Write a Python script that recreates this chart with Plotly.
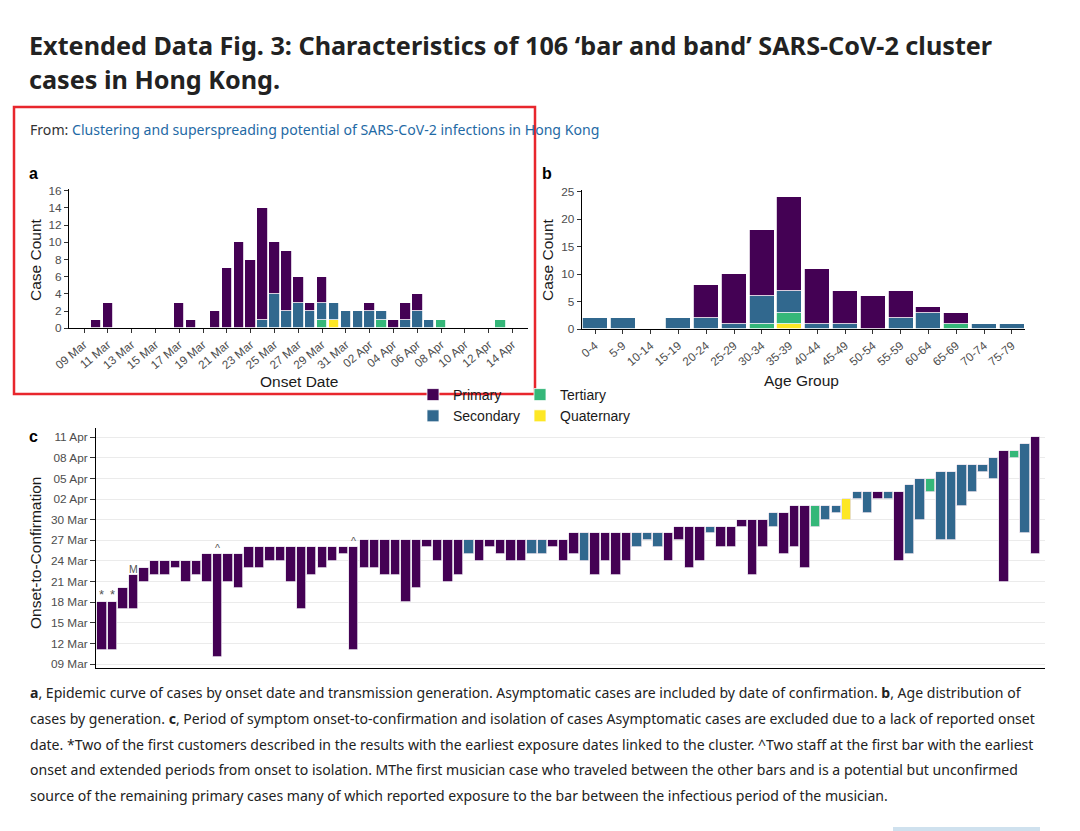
import pandas as pd
import plotly.graph_objects as go

# ---------------- data ----------------
generations = ["Primary", "Secondary", "Tertiary", "Quaternary"]
gen_colors = ["#440154", "#31688e", "#35b779", "#fde725"]

# panel a: epidemic curve by onset date
a_onset_dates = ["2020-03-10", "2020-03-11", "2020-03-17", "2020-03-18", "2020-03-20",
                 "2020-03-21", "2020-03-22", "2020-03-23", "2020-03-24", "2020-03-25",
                 "2020-03-26", "2020-03-27", "2020-03-28", "2020-03-29", "2020-03-30",
                 "2020-03-31", "2020-04-01", "2020-04-02", "2020-04-03", "2020-04-04",
                 "2020-04-05", "2020-04-06", "2020-04-07", "2020-04-08", "2020-04-13"]
a_primary    = [1, 3, 3, 1, 2, 7, 10, 8, 13, 6, 7, 3, 1, 3, 0, 0, 0, 1, 0, 1, 2, 2, 0, 0, 0]
a_secondary  = [0, 0, 0, 0, 0, 0, 0, 0, 1, 4, 2, 3, 2, 2, 2, 2, 2, 2, 1, 0, 1, 2, 1, 0, 0]
a_tertiary   = [0, 0, 0, 0, 0, 0, 0, 0, 0, 0, 0, 0, 0, 1, 0, 0, 0, 0, 1, 0, 0, 0, 0, 1, 1]
a_quaternary = [0, 0, 0, 0, 0, 0, 0, 0, 0, 0, 0, 0, 0, 0, 1, 0, 0, 0, 0, 0, 0, 0, 0, 0, 0]

# panel b: age distribution
age_groups = ["0-4", "5-9", "10-14", "15-19", "20-24", "25-29", "30-34", "35-39",
              "40-44", "45-49", "50-54", "55-59", "60-64", "65-69", "70-74", "75-79"]
b_primary    = [0, 0, 0, 0, 6, 9, 12, 17, 10, 6, 6, 5, 1, 2, 0, 0]
b_secondary  = [2, 2, 0, 2, 2, 1, 5, 4, 1, 1, 0, 2, 3, 0, 1, 1]
b_tertiary   = [0, 0, 0, 0, 0, 0, 1, 2, 0, 0, 0, 0, 0, 1, 0, 0]
b_quaternary = [0, 0, 0, 0, 0, 0, 0, 1, 0, 0, 0, 0, 0, 0, 0, 0]

# panel c: onset-to-confirmation period per case
c_confirm = ["2020-03-18", "2020-03-18", "2020-03-20", "2020-03-22", "2020-03-23",
             "2020-03-24", "2020-03-24", "2020-03-24", "2020-03-24", "2020-03-24",
             "2020-03-25", "2020-03-25", "2020-03-25", "2020-03-25", "2020-03-26",
             "2020-03-26", "2020-03-26", "2020-03-26", "2020-03-26", "2020-03-26",
             "2020-03-26", "2020-03-26", "2020-03-26", "2020-03-26", "2020-03-26",
             "2020-03-27", "2020-03-27", "2020-03-27", "2020-03-27", "2020-03-27",
             "2020-03-27", "2020-03-27", "2020-03-27", "2020-03-27", "2020-03-27",
             "2020-03-27", "2020-03-27", "2020-03-27", "2020-03-27", "2020-03-27",
             "2020-03-27", "2020-03-27", "2020-03-27", "2020-03-27", "2020-03-27",
             "2020-03-28", "2020-03-28", "2020-03-28", "2020-03-28", "2020-03-28",
             "2020-03-28", "2020-03-28", "2020-03-28", "2020-03-28", "2020-03-28",
             "2020-03-29", "2020-03-29", "2020-03-29", "2020-03-29", "2020-03-29",
             "2020-03-29", "2020-03-30", "2020-03-30", "2020-03-30", "2020-03-31",
             "2020-03-31", "2020-04-01", "2020-04-01", "2020-04-01", "2020-04-01",
             "2020-04-01", "2020-04-02", "2020-04-03", "2020-04-03", "2020-04-03",
             "2020-04-03", "2020-04-03", "2020-04-04", "2020-04-05", "2020-04-05",
             "2020-04-06", "2020-04-06", "2020-04-07", "2020-04-07", "2020-04-07",
             "2020-04-08", "2020-04-09", "2020-04-09", "2020-04-10", "2020-04-11"]
c_onset = ["2020-03-11", "2020-03-11", "2020-03-17", "2020-03-17", "2020-03-21",
           "2020-03-22", "2020-03-22", "2020-03-23", "2020-03-21", "2020-03-22",
           "2020-03-21", "2020-03-10", "2020-03-21", "2020-03-20", "2020-03-23",
           "2020-03-23", "2020-03-24", "2020-03-24", "2020-03-21", "2020-03-17",
           "2020-03-22", "2020-03-23", "2020-03-24", "2020-03-25", "2020-03-11",
           "2020-03-23", "2020-03-23", "2020-03-22", "2020-03-22", "2020-03-18",
           "2020-03-20", "2020-03-26", "2020-03-24", "2020-03-21", "2020-03-22",
           "2020-03-25", "2020-03-24", "2020-03-26", "2020-03-25", "2020-03-24",
           "2020-03-24", "2020-03-25", "2020-03-25", "2020-03-26", "2020-03-24",
           "2020-03-25", "2020-03-24", "2020-03-22", "2020-03-24", "2020-03-22",
           "2020-03-24", "2020-03-26", "2020-03-27", "2020-03-26", "2020-03-24",
           "2020-03-27", "2020-03-23", "2020-03-24", "2020-03-28", "2020-03-26",
           "2020-03-26", "2020-03-29", "2020-03-22", "2020-03-26", "2020-03-29",
           "2020-03-25", "2020-03-26", "2020-03-23", "2020-03-29", "2020-03-30",
           "2020-03-31", "2020-03-30", "2020-04-02", "2020-03-31", "2020-04-02",
           "2020-04-02", "2020-03-24", "2020-03-25", "2020-03-30", "2020-04-03",
           "2020-03-27", "2020-03-27", "2020-04-01", "2020-04-03", "2020-04-06",
           "2020-04-05", "2020-03-21", "2020-04-08", "2020-03-28", "2020-03-25"]
c_generation = ["P", "P", "P", "P", "P", "P", "P", "P", "P", "P",
                "P", "P", "P", "P", "P", "P", "P", "P", "P", "P",
                "P", "P", "P", "P", "P", "P", "P", "P", "P", "P",
                "P", "P", "P", "P", "P", "S", "P", "P", "P", "P",
                "P", "S", "S", "P", "P", "P", "S", "P", "P", "P",
                "P", "S", "S", "S", "P", "P", "P", "P", "S", "P",
                "P", "P", "P", "P", "S", "P", "P", "P", "T", "S",
                "S", "Q", "S", "S", "P", "S", "P", "S", "S", "T",
                "S", "S", "S", "S", "S", "S", "P", "T", "S", "P"]
c_note_case = [1, 2, 4, 12, 25]
c_note_text = ["*", "*", "M", "^", "^"]

# ---------------- helpers ----------------
W, H = 1080, 831
DAY = 86400000


def px(x):
    return x / W


def py(y):
    return 1 - y / H


def nz(vals):
    return [v if v else None for v in vals]


col = dict(zip(generations, gen_colors))
code_of = {"Primary": "P", "Secondary": "S", "Tertiary": "T", "Quaternary": "Q"}
TICK = "#4d4d4d"
TXT = "#1a1a1a"
FONT = "Liberation Sans, Arial, sans-serif"
PAGE = "Noto Sans, Lato, sans-serif"

fig = go.Figure()

a_series = {"Primary": a_primary, "Secondary": a_secondary,
            "Tertiary": a_tertiary, "Quaternary": a_quaternary}
b_series = {"Primary": b_primary, "Secondary": b_secondary,
            "Tertiary": b_tertiary, "Quaternary": b_quaternary}

stack_order = ["Quaternary", "Tertiary", "Secondary", "Primary"]
for gen in stack_order:
    leg = "legend" if gen in ("Primary", "Secondary") else "legend2"
    fig.add_trace(go.Bar(
        x=a_onset_dates, y=nz(a_series[gen]), name=gen, width=0.88 * DAY,
        marker=dict(color=col[gen], line=dict(color="white", width=0.8)),
        xaxis="x", yaxis="y", legend=leg, showlegend=True, hoverinfo="x+y+name"))
for gen in stack_order:
    fig.add_trace(go.Bar(
        x=age_groups, y=nz(b_series[gen]), name=gen, width=0.9,
        marker=dict(color=col[gen], line=dict(color="white", width=0.8)),
        xaxis="x2", yaxis="y2", showlegend=False))

for gen in generations:
    xs, bases, lens = [], [], []
    for i, (top, bot, g) in enumerate(zip(c_confirm, c_onset, c_generation), start=1):
        if g == code_of[gen]:
            xs.append(i)
            bases.append(bot)
            lens.append((pd.Timestamp(top) - pd.Timestamp(bot)).total_seconds() * 1000)
    fig.add_trace(go.Bar(
        x=xs, y=lens, base=bases, name=gen, width=0.9,
        marker=dict(color=col[gen], line=dict(color="#e6e0ea", width=0.8)),
        xaxis="x3", yaxis="y3", showlegend=False))

# ---------------- axes ----------------
d0 = pd.Timestamp("2020-03-09")
axis_common = dict(showline=True, linecolor="black", linewidth=1, ticks="outside",
                   ticklen=4, tickcolor="#333333", tickwidth=1, zeroline=False,
                   showgrid=False, automargin=False,
                   tickfont=dict(size=11.8, color=TICK, family=FONT))

annotations = []
shapes = []

fig.update_layout(
    xaxis=dict(axis_common, type="date", domain=[px(69), px(528)], anchor="y",
               range=[d0 - pd.Timedelta(days=1.26), d0 + pd.Timedelta(days=37.3)],
               tick0="2020-03-09", dtick=2 * DAY, tickformat="%d %b", tickangle=-40),
    yaxis=dict(axis_common, domain=[py(328.3), py(189)], anchor="x",
               range=[0, 16.2], dtick=2),
    xaxis2=dict(axis_common, type="category", domain=[px(581.7), px(1025)], anchor="y2",
                range=[-0.48, 15.47], tickangle=-40,
                categoryorder="array", categoryarray=age_groups),
    yaxis2=dict(axis_common, domain=[py(329.3), py(190)], anchor="x2",
                range=[0, 25.3], dtick=5),
    xaxis3=dict(showline=True, linecolor="black", linewidth=1, domain=[px(96), px(1045)],
                anchor="y3", range=[0.43, 90.9], showticklabels=False, ticks="",
                showgrid=False, zeroline=False, automargin=False),
    yaxis3=dict(axis_common, type="date", domain=[py(668), py(428)], anchor="x3",
                range=[d0 - pd.Timedelta(days=0.58), d0 + pd.Timedelta(days=34.35)],
                tick0="2020-03-09", dtick=3 * DAY, tickformat="%d %b",
                showgrid=True, gridcolor="#ebebeb", gridwidth=1, ticklen=5),
)

# axis titles
for text, x, y, ang in [("Onset Date", 299, 381.5, 0), ("Age Group", 801.5, 380.5, 0),
                        ("Case Count", 36, 260, -90), ("Case Count", 548, 260, -90),
                        ("Onset-to-Confirmation", 35, 553, -90)]:
    annotations.append(dict(text=text, x=px(x), y=py(y), xref="paper", yref="paper",
                            showarrow=False, textangle=ang, xanchor="center", yanchor="middle",
                            font=dict(size=15.5, color=TXT, family=FONT)))

# panel letters
for text, x, y in [("a", 33, 174), ("b", 547, 174), ("c", 33, 436)]:
    annotations.append(dict(text="<b>%s</b>" % text, x=px(x), y=py(y), xref="paper",
                            yref="paper", showarrow=False, xanchor="center", yanchor="middle",
                            font=dict(size=16, color="black", family=FONT)))

# case notes in panel c
for case, note in zip(c_note_case, c_note_text):
    annotations.append(dict(text=note, x=case, y=c_confirm[case - 1], xref="x3", yref="y3",
                            showarrow=False, xanchor="center", yanchor="bottom", yshift=-2,
                            font=dict(size=10.5 if note != "*" else 13, color="#555555",
                                      family=FONT)))

# page title, source line and caption
title_lines = ["Extended Data Fig. 3: Characteristics of 106 \u2018bar and band\u2019 SARS-CoV-2 cluster",
               "cases in Hong Kong."]
for line, y in zip(title_lines, [45, 79]):
    annotations.append(dict(text="<b>%s</b>" % line, x=px(27), y=py(y), xref="paper",
                            yref="paper", showarrow=False, xanchor="left", yanchor="middle",
                            font=dict(size=25.2, color="#222222", family=PAGE)))
annotations.append(dict(
    text="From: <span style='color:#1f6aa5'>Clustering and superspreading potential of "
         "SARS-CoV-2 infections in Hong Kong</span>",
    x=px(28), y=py(129), xref="paper", yref="paper", showarrow=False, xanchor="left",
    yanchor="middle", font=dict(size=14.1, color="#333333", family=PAGE)))

caption_lines = [
    "<b>a</b>, Epidemic curve of cases by onset date and transmission generation. Asymptomatic "
    "cases are included by date of confirmation. <b>b</b>, Age distribution of",
    "cases by generation. <b>c</b>, Period of symptom onset-to-confirmation and isolation of "
    "cases Asymptomatic cases are excluded due to a lack of reported onset",
    "date. *Two of the first customers described in the results with the earliest exposure "
    "dates linked to the cluster. ^Two staff at the first bar with the earliest",
    "onset and extended periods from onset to isolation. MThe first musician case who "
    "traveled between the other bars and is a potential but unconfirmed",
    "source of the remaining primary cases many of which reported exposure to the bar "
    "between the infectious period of the musician.",
]
for line, y in zip(caption_lines, [692, 718, 744, 769.5, 795]):
    annotations.append(dict(text=line, x=px(28), y=py(y), xref="paper", yref="paper",
                            showarrow=False, xanchor="left", yanchor="middle",
                            font=dict(size=14.05, color="#222222", family=PAGE)))

# highlight box and page button
shapes.append(dict(type="rect", xref="paper", yref="paper", x0=px(14), x1=px(535),
                   y0=py(394), y1=py(107), line=dict(color="#e8262d", width=2.5),
                   layer="above"))
shapes.append(dict(type="rect", xref="paper", yref="paper", x0=px(893), x1=px(1040),
                   y0=py(840), y1=py(827), line=dict(width=0), fillcolor="#cfe1ee",
                   layer="below"))

fig.update_layout(
    width=W, height=H, margin=dict(l=0, r=0, t=0, b=0, autoexpand=False),
    paper_bgcolor="white", plot_bgcolor="white",
    barmode="stack", bargap=0,
    font=dict(family=FONT, color=TXT),
    annotations=annotations, shapes=shapes,
    legend=dict(x=px(413), y=py(379), xanchor="left", yanchor="top", orientation="v",
                traceorder="reversed", bgcolor="rgba(0,0,0,0)",
                font=dict(size=14, color=TXT, family=FONT)),
    legend2=dict(x=px(520), y=py(379), xanchor="left", yanchor="top", orientation="v",
                 traceorder="reversed", bgcolor="rgba(0,0,0,0)",
                 font=dict(size=14, color=TXT, family=FONT)),
)

fig.write_html("out.html", config={"displayModeBar": False},
               post_script="document.body.style.margin='0';")
